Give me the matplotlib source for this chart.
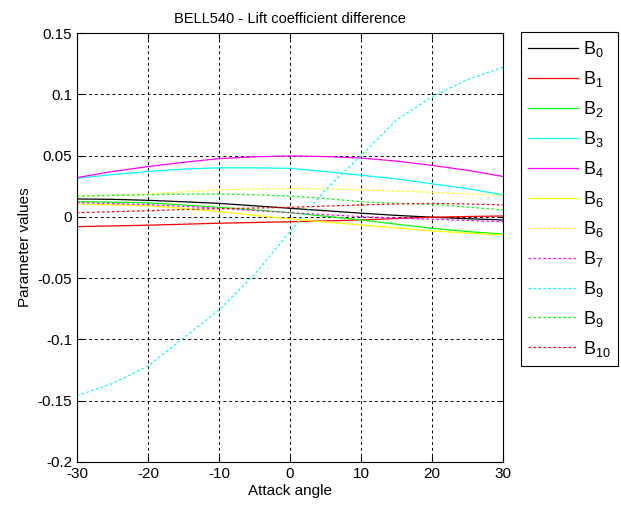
import numpy as np
import matplotlib.pyplot as plt

plt.rcParams['font.family'] = ['Liberation Sans', 'DejaVu Sans']
plt.rcParams['mathtext.fontset'] = 'custom'
plt.rcParams['mathtext.rm'] = 'Liberation Sans'
plt.rcParams['mathtext.it'] = 'Liberation Sans:italic'
plt.rcParams['axes.unicode_minus'] = False

# attack angle grid (deg)
angle = np.arange(-30, 31, 5)

b0 = [0.0146, 0.0143, 0.0135, 0.0123, 0.0110, 0.0090, 0.0070, 0.0050, 0.0030, 0.0012, -0.0003, -0.0015, -0.0025]
b1 = [-0.0080, -0.0074, -0.0068, -0.0060, -0.0052, -0.0046, -0.0040, -0.0033, -0.0025, -0.0014, -0.0003, 0.0003, 0.0007]
b2 = [0.0124, 0.0120, 0.0114, 0.0097, 0.0078, 0.0057, 0.0034, 0.0005, -0.0025, -0.0060, -0.0093, -0.0120, -0.0140]
b3 = [0.0315, 0.0345, 0.0370, 0.0390, 0.0400, 0.0400, 0.0396, 0.0370, 0.0340, 0.0310, 0.0270, 0.0230, 0.0180]
b4 = [0.0320, 0.0370, 0.0410, 0.0445, 0.0475, 0.0490, 0.0497, 0.0492, 0.0480, 0.0455, 0.0420, 0.0380, 0.0330]
b6_solid = [0.0105, 0.0098, 0.0090, 0.0068, 0.0043, 0.0013, -0.0017, -0.0042, -0.0066, -0.0090, -0.0115, -0.0133, -0.0148]
b6_dash = [0.0165, 0.0177, 0.0187, 0.0205, 0.0220, 0.0228, 0.0230, 0.0228, 0.0220, 0.0210, 0.0200, 0.0187, 0.0173]
b7 = [0.0116, 0.0108, 0.0100, 0.0086, 0.0070, 0.0052, 0.0034, 0.0018, 0.0002, -0.0010, -0.0020, -0.0030, -0.0040]
b9_cyan = [-0.146, -0.136, -0.1217, -0.099, -0.076, -0.047, -0.012, 0.022, 0.050, 0.079, 0.098, 0.112, 0.122]
b9_green = [0.0170, 0.0175, 0.0180, 0.0185, 0.0187, 0.0180, 0.0170, 0.0150, 0.0124, 0.0110, 0.0103, 0.0080, 0.0056]
b10 = [0.0034, 0.0042, 0.0050, 0.0060, 0.0067, 0.0072, 0.0078, 0.0088, 0.0097, 0.0105, 0.0110, 0.0105, 0.0097]

series = [
    (b0, 'k', '-', '0'),
    (b1, '#ff0000', '-', '1'),
    (b2, '#00ff00', '-', '2'),
    (b3, '#00ffff', '-', '3'),
    (b4, '#ff00ff', '-', '4'),
    (b6_solid, '#ffff00', '-', '6'),
    (b6_dash, '#ffff00', ':', '6'),
    (b7, '#ff00ff', ':', '7'),
    (b9_cyan, '#00ffff', ':', '9'),
    (b9_green, '#00ff00', ':', '9'),
    (b10, '#ff0000', ':', '10'),
]

fig = plt.figure(figsize=(6.21, 5.08), dpi=100)
ax = fig.add_axes([0.124, 0.0906, 0.686, 0.8444])

for vals, col, ls, idx in series:
    style = (0, (2, 2)) if ls == ':' else '-'
    ax.plot(angle, vals, color=col, linestyle=style, linewidth=0.9,
            label=r'$\mathrm{B}_{%s}$' % idx)

ax.set_xlim(-30, 30)
ax.set_ylim(-0.2, 0.15)
ax.set_xticks(np.arange(-30, 31, 10))
yt = np.round(np.arange(-0.2, 0.151, 0.05), 2)
ax.set_yticks(yt)
ax.set_yticklabels(['%g' % v if v != 0 else '0' for v in yt])
ax.tick_params(direction='in', length=4, labelsize=11, top=True, right=True)
ax.grid(True, color='k', linestyle=(0, (3, 3)), linewidth=0.7)

ax.set_title('BELL540 - Lift coefficient difference', fontsize=10.5, pad=7)
ax.set_xlabel('Attack angle', fontsize=11, labelpad=2)
ax.set_ylabel('Parameter values', fontsize=11, labelpad=4)

leg = ax.legend(loc='upper left', bbox_to_anchor=(1.042, 1.002), fontsize=13,
                handlelength=2.75, handletextpad=0.3, labelspacing=0.55,
                borderaxespad=0, fancybox=False, edgecolor='k',
                framealpha=1, borderpad=0.4)
leg.get_frame().set_linewidth(0.8)

fig.savefig('out.png', dpi=100)
